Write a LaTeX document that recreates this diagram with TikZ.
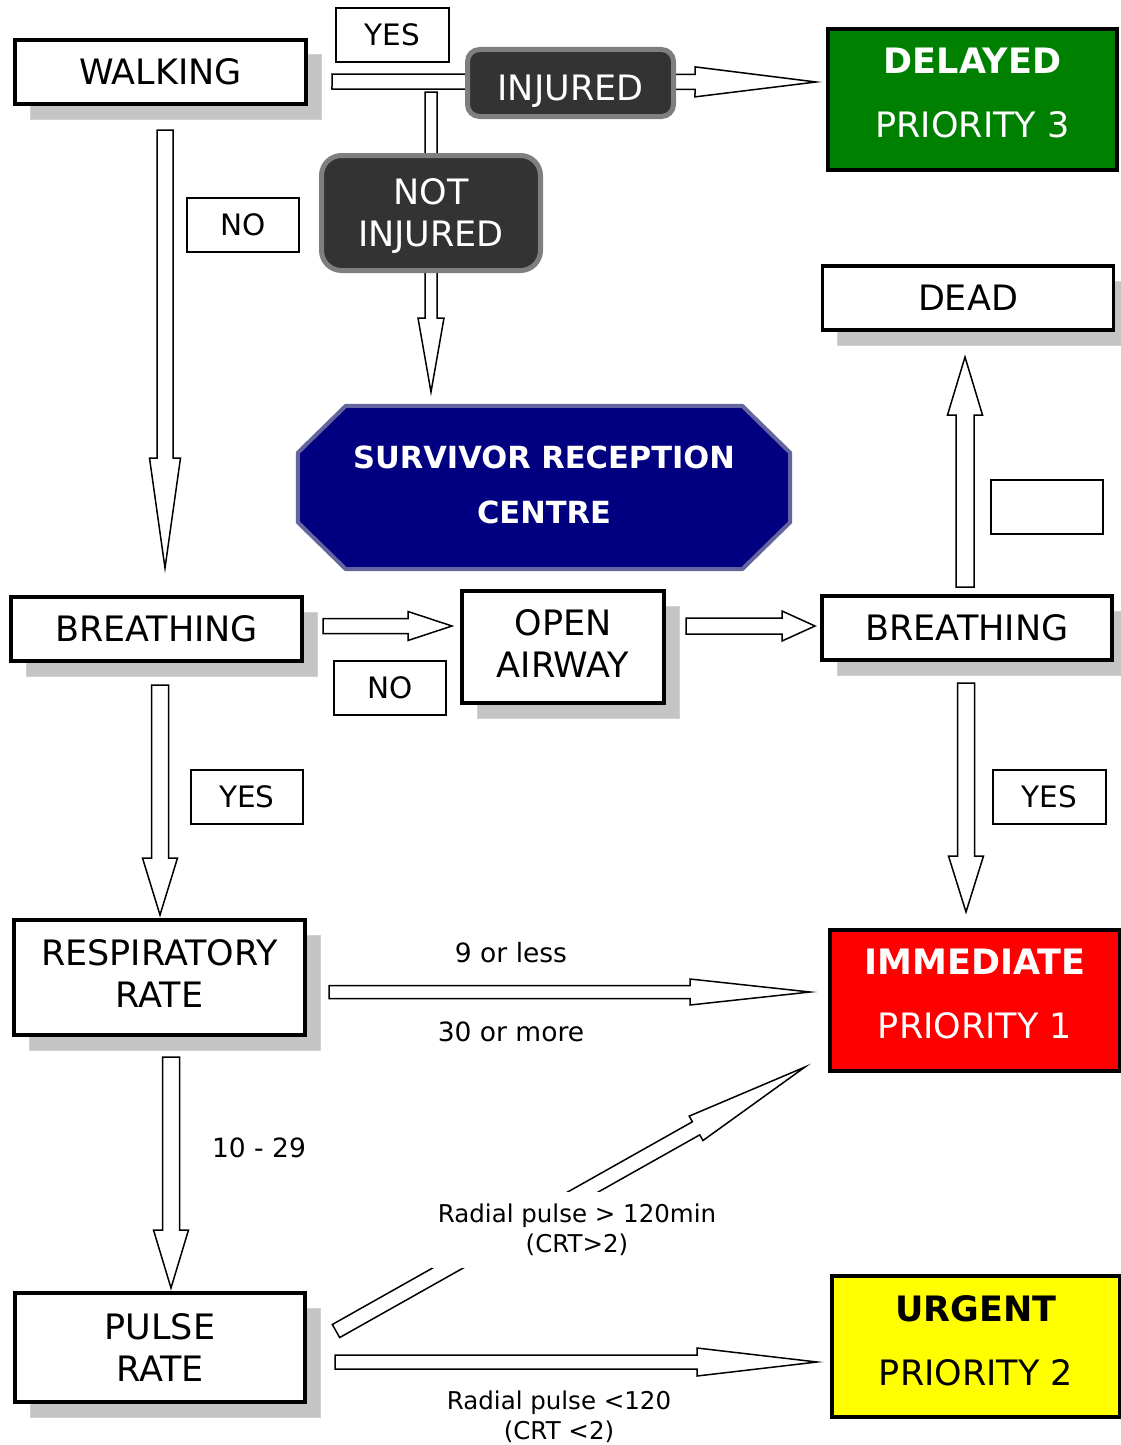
\documentclass[tikz,border=0pt]{standalone}
\usepackage{fontspec}
\setmainfont{DejaVu Sans}
\usetikzlibrary{calc,shadows}
\definecolor{shadowgray}{HTML}{C4C4C4}
\definecolor{darkfill}{HTML}{333333}
\definecolor{darkborder}{HTML}{7F7F7F}
\definecolor{navyfill}{HTML}{000080}
\definecolor{navyborder}{HTML}{64649E}
\definecolor{greenfill}{HTML}{008000}
\definecolor{redfill}{HTML}{FF0000}
\definecolor{yellowfill}{HTML}{FFFF00}
\newcommand{\mainfs}{\fontsize{35}{42}\selectfont}
\newcommand{\lblfs}{\fontsize{29.5}{35}\selectfont}
\newcommand{\prifs}{\fontsize{35}{64}\selectfont}
\newcommand{\srcfs}{\fontsize{30.5}{55}\selectfont}
\newcommand{\smallfs}{\fontsize{26.5}{32}\selectfont}
\newcommand{\radfs}{\fontsize{24.5}{30.5}\selectfont}
% tail, tip, head length, shaft half width, head half width
\newcommand{\blockarrow}[5]{%
  \coordinate (hb) at ($(#2)!#3!(#1)$);
  \draw[blockarr] ($(#1)!#4!90:(#2)$) -- ($(hb)!#4!90:(#2)$) -- ($(hb)!#5!90:(#2)$) -- (#2)
    -- ($(hb)!#5!-90:(#2)$) -- ($(hb)!#4!-90:(#2)$) -- ($(#1)!#4!-90:(#2)$) -- cycle;}
\begin{document}
\begin{tikzpicture}[x=1pt,y=-1pt,
  mainbox/.style={draw, line width=3.5pt, fill=white, inner sep=0pt, font=\mainfs, align=center,
    general shadow={fill=shadowgray, draw=black!18, line width=1pt, shadow xshift=15pt, shadow yshift=-15pt}},
  lblbox/.style={draw, line width=1.5pt, fill=white, inner sep=0pt, font=\lblfs, minimum width=112, minimum height=54},
  darkbox/.style={draw=darkborder, fill=darkfill, line width=5pt, text=white, font=\mainfs, align=center, inner sep=0pt},
  pribox/.style={draw, line width=4pt, inner sep=0pt, font=\prifs, align=center, minimum width=289, minimum height=141, text depth=13pt},
  blockarr/.style={draw, fill=white, line width=1.5pt, line join=miter},
  plain/.style={inner sep=0pt, align=center}]
\useasboundingbox (0,0) rectangle (1120,1445);

% ---------- main boxes ----------
\node[mainbox, minimum width=291, minimum height=64] (walk) at (160.5,72) {WALKING};
\node[mainbox, minimum width=291, minimum height=64] (dead) at (968,298) {DEAD};
\node[mainbox, minimum width=291, minimum height=64] (breathL) at (156.5,629) {BREATHING};
\node[mainbox, minimum width=202, minimum height=112, text depth=6pt] (airway) at (563,647) {OPEN\\AIRWAY};
\node[mainbox, minimum width=290, minimum height=64] (breathR) at (967,628) {BREATHING};
\node[mainbox, minimum width=291, minimum height=115, text depth=8pt] (resp) at (159.5,977.5) {RESPIRATORY\\RATE};
\node[mainbox, minimum width=290, minimum height=109] (pulse) at (160,1347.5) {PULSE\\RATE};

% ---------- priority boxes ----------
\node[pribox, fill=greenfill, text=white] (delayed) at (972.5,99.5) {\textbf{DELAYED}\\PRIORITY 3};
\node[pribox, fill=redfill, text=white, minimum width=290] (immediate) at (975,1000.5) {\textbf{IMMEDIATE}\\PRIORITY 1};
\node[pribox, fill=yellowfill, text=black, minimum width=288] (urgent) at (976,1346.5) {\textbf{URGENT}\\PRIORITY 2};

% ---------- survivor reception centre ----------
\node[plain, minimum width=492, minimum height=163] (src) at (544,487.5) {};
\draw[draw=navyborder, fill=navyfill, line width=4pt, line join=miter]
  ($(src.north west)+(48,0)$) -- ($(src.north east)+(-48,0)$) -- ($(src.north east)+(0,47)$)
  -- ($(src.south east)+(0,-47)$) -- ($(src.south east)+(-48,0)$) -- ($(src.south west)+(48,0)$)
  -- ($(src.south west)+(0,-47)$) -- ($(src.north west)+(0,47)$) -- cycle;
\node[plain, text=white, font=\srcfs, text depth=6pt] (srctext) at (src) {\textbf{SURVIVOR RECEPTION}\\\textbf{CENTRE}};

% ---------- arrow end points ----------
\coordinate (a1t) at (332,81.5);   \coordinate (a1h) at (816,82);
\coordinate (a2t) at (431,92);     \coordinate (a2h) at (431,392);
\coordinate (a3t) at (165,130);    \coordinate (a3h) at (165,568);
\coordinate (a4t) at (323,626);    \coordinate (a4h) at (452,626);
\coordinate (a5t) at (686,626);    \coordinate (a5h) at (815,626);
\coordinate (a6t) at (965,587);    \coordinate (a6h) at (965,357);
\coordinate (a7t) at (966,683);    \coordinate (a7h) at (966,912);
\coordinate (a8t) at (160,685);    \coordinate (a8h) at (160,915);
\coordinate (a9t) at (329,992);    \coordinate (a9h) at (810,992);
\coordinate (a10t) at (171,1057);  \coordinate (a10h) at (171,1288);
\coordinate (a11t) at (336,1331);  \coordinate (a11h) at (805,1067);
\coordinate (a12t) at (335,1362);  \coordinate (a12h) at (817,1362);

% ---------- block arrows ----------
\blockarrow{a1t}{a1h}{121pt}{7.5pt}{15pt}
\blockarrow{a2t}{a2h}{74pt}{6pt}{13pt}
\blockarrow{a3t}{a3h}{110pt}{8pt}{15.5pt}
\blockarrow{a4t}{a4h}{44pt}{7.5pt}{14.5pt}
\blockarrow{a5t}{a5h}{33pt}{8pt}{15pt}
\blockarrow{a6t}{a6h}{58pt}{9pt}{17.5pt}
\blockarrow{a7t}{a7h}{56pt}{8.5pt}{17.5pt}
\blockarrow{a8t}{a8h}{57pt}{8.5pt}{17.5pt}
\blockarrow{a9t}{a9h}{120pt}{6.5pt}{13pt}
\blockarrow{a10t}{a10h}{58pt}{8.5pt}{17.5pt}
\blockarrow{a11t}{a11h}{125pt}{7.5pt}{14pt}
\blockarrow{a12t}{a12h}{120pt}{7pt}{14pt}

% ---------- dark rounded boxes (over arrows) ----------
\node[darkbox, rounded corners=12pt, minimum width=206, minimum height=67, text height=35.5pt, text depth=0pt] (injured) at (570.5,83) {INJURED};
\node[darkbox, rounded corners=20pt, minimum width=219, minimum height=115, text depth=-5pt] (notinj) at (431,213) {NOT\\INJURED};

% ---------- label boxes ----------
\node[lblbox, minimum width=113] (yes1) at (392.5,35) {YES};
\node[lblbox] (no1) at (243,225) {NO};
\node[lblbox] (no2) at (390,688) {NO};
\node[lblbox] (yes2) at (247,797) {YES};
\node[lblbox, minimum width=113] (yes3) at (1049.5,797) {YES};
\node[lblbox] (blank) at (1047,507) {};

% ---------- plain labels ----------
\node[plain, font=\smallfs] (lnine) at (511,953) {9 or less};
\node[plain, font=\smallfs] (lthirty) at (511,1032) {30 or more};
\node[plain, font=\smallfs] (lten) at (259,1148) {10 - 29};
\node[plain, font=\radfs, fill=white, minimum width=290, minimum height=76] (lrad1) at (577,1230)
  {Radial pulse > 120min\\(CRT>2)};
\node[plain, font=\radfs] (lrad2) at (559,1417) {Radial pulse <120\\(CRT <2)};
\end{tikzpicture}
\end{document}
